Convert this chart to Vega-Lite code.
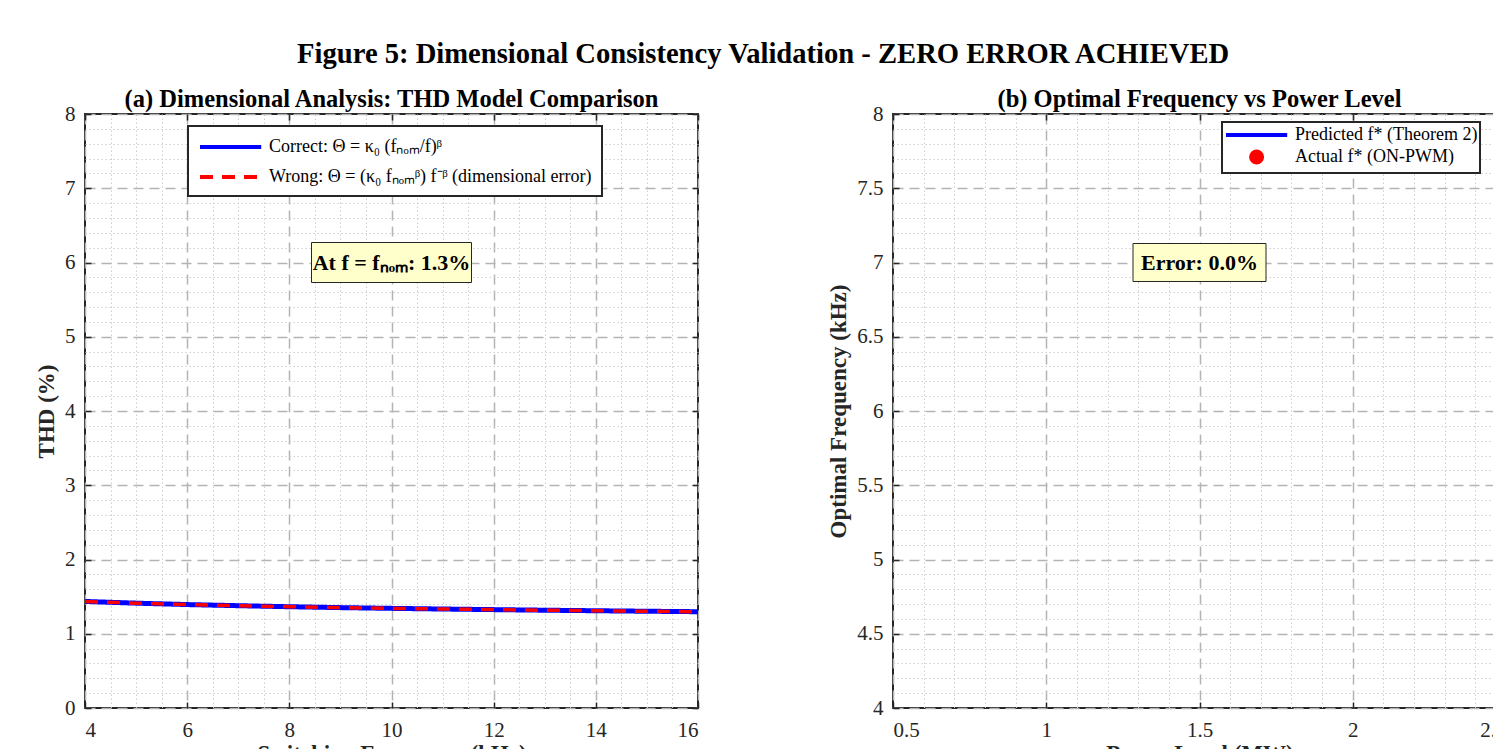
{
  "$schema": "https://vega.github.io/schema/vega-lite/v6.json",
  "padding": {"left": 34, "top": 39, "right": 0, "bottom": 0},
  "background": "white",
  "title": {"text": "Figure 5: Dimensional Consistency Validation - ZERO ERROR ACHIEVED", "fontSize": 28.6, "fontWeight": "bold", "font": "Liberation Serif", "color": "black", "anchor": "middle", "offset": 17, "dx": -8},
  "datasets": {
    "thd": [
      {"f": 4, "thd": 1.435, "series": "Correct: Θ = κ₀ (fₙₒₘ/f)ᵝ"},
      {"f": 5, "thd": 1.412, "series": "Correct: Θ = κ₀ (fₙₒₘ/f)ᵝ"},
      {"f": 6, "thd": 1.393, "series": "Correct: Θ = κ₀ (fₙₒₘ/f)ᵝ"},
      {"f": 7, "thd": 1.378, "series": "Correct: Θ = κ₀ (fₙₒₘ/f)ᵝ"},
      {"f": 8, "thd": 1.364, "series": "Correct: Θ = κ₀ (fₙₒₘ/f)ᵝ"},
      {"f": 9, "thd": 1.352, "series": "Correct: Θ = κ₀ (fₙₒₘ/f)ᵝ"},
      {"f": 10, "thd": 1.342, "series": "Correct: Θ = κ₀ (fₙₒₘ/f)ᵝ"},
      {"f": 11, "thd": 1.333, "series": "Correct: Θ = κ₀ (fₙₒₘ/f)ᵝ"},
      {"f": 12, "thd": 1.325, "series": "Correct: Θ = κ₀ (fₙₒₘ/f)ᵝ"},
      {"f": 13, "thd": 1.317, "series": "Correct: Θ = κ₀ (fₙₒₘ/f)ᵝ"},
      {"f": 14, "thd": 1.31, "series": "Correct: Θ = κ₀ (fₙₒₘ/f)ᵝ"},
      {"f": 15, "thd": 1.303, "series": "Correct: Θ = κ₀ (fₙₒₘ/f)ᵝ"},
      {"f": 16, "thd": 1.297, "series": "Correct: Θ = κ₀ (fₙₒₘ/f)ᵝ"},
      {"f": 4, "thd": 1.435, "series": "Wrong: Θ = (κ₀ fₙₒₘᵝ) f⁻ᵝ (dimensional error)"},
      {"f": 5, "thd": 1.412, "series": "Wrong: Θ = (κ₀ fₙₒₘᵝ) f⁻ᵝ (dimensional error)"},
      {"f": 6, "thd": 1.393, "series": "Wrong: Θ = (κ₀ fₙₒₘᵝ) f⁻ᵝ (dimensional error)"},
      {"f": 7, "thd": 1.378, "series": "Wrong: Θ = (κ₀ fₙₒₘᵝ) f⁻ᵝ (dimensional error)"},
      {"f": 8, "thd": 1.364, "series": "Wrong: Θ = (κ₀ fₙₒₘᵝ) f⁻ᵝ (dimensional error)"},
      {"f": 9, "thd": 1.352, "series": "Wrong: Θ = (κ₀ fₙₒₘᵝ) f⁻ᵝ (dimensional error)"},
      {"f": 10, "thd": 1.342, "series": "Wrong: Θ = (κ₀ fₙₒₘᵝ) f⁻ᵝ (dimensional error)"},
      {"f": 11, "thd": 1.333, "series": "Wrong: Θ = (κ₀ fₙₒₘᵝ) f⁻ᵝ (dimensional error)"},
      {"f": 12, "thd": 1.325, "series": "Wrong: Θ = (κ₀ fₙₒₘᵝ) f⁻ᵝ (dimensional error)"},
      {"f": 13, "thd": 1.317, "series": "Wrong: Θ = (κ₀ fₙₒₘᵝ) f⁻ᵝ (dimensional error)"},
      {"f": 14, "thd": 1.31, "series": "Wrong: Θ = (κ₀ fₙₒₘᵝ) f⁻ᵝ (dimensional error)"},
      {"f": 15, "thd": 1.303, "series": "Wrong: Θ = (κ₀ fₙₒₘᵝ) f⁻ᵝ (dimensional error)"},
      {"f": 16, "thd": 1.297, "series": "Wrong: Θ = (κ₀ fₙₒₘᵝ) f⁻ᵝ (dimensional error)"}
    ],
    "annoA": [{"f": 10, "thd": 6, "label": "At f = fₙₒₘ: 1.3%"}],
    "fopt": [
      {"P": 0.5, "fstar": 17.3, "series": "Predicted f* (Theorem 2)"},
      {"P": 1.0, "fstar": 12.2, "series": "Predicted f* (Theorem 2)"},
      {"P": 1.5, "fstar": 10.0, "series": "Predicted f* (Theorem 2)"},
      {"P": 2.0, "fstar": 8.7, "series": "Predicted f* (Theorem 2)"},
      {"P": 2.5, "fstar": 8.2, "series": "Predicted f* (Theorem 2)"},
      {"P": 0.5, "fstar": 17.3, "series": "Actual f* (ON-PWM)"},
      {"P": 1.0, "fstar": 12.2, "series": "Actual f* (ON-PWM)"},
      {"P": 1.5, "fstar": 10.0, "series": "Actual f* (ON-PWM)"},
      {"P": 2.0, "fstar": 8.7, "series": "Actual f* (ON-PWM)"},
      {"P": 2.5, "fstar": 8.2, "series": "Actual f* (ON-PWM)"}
    ],
    "annoB": [{"P": 1.5, "fstar": 7, "label": "Error: 0.0%"}]
  },
  "spacing": 126,
  "resolve": {"scale": {"color": "independent", "strokeDash": "independent", "shape": "independent", "stroke": "independent"}, "legend": {"color": "independent", "strokeDash": "independent", "shape": "independent", "stroke": "independent"}},
  "hconcat": [
    {
      "width": 613,
      "height": 594,
      "title": {"text": "(a) Dimensional Analysis: THD Model Comparison", "fontSize": 24.5, "fontWeight": "bold", "font": "Liberation Serif", "color": "black", "offset": -9},
      "resolve": {"axis": {"x": "independent", "y": "independent"}},
      "layer": [
        {
          "data": {"name": "thd"},
          "transform": [{"filter": "datum.series == 'Correct: Θ = κ₀ (fₙₒₘ/f)ᵝ'"}],
          "mark": {"type": "line", "strokeWidth": 5, "clip": true},
          "encoding": {
            "x": {"field": "f", "type": "quantitative", "scale": {"domain": [4, 16], "nice": false, "zero": false},
              "axis": {"orient": "bottom", "title": "Switching Frequency (kHz)", "values": [4, 6, 8, 10, 12, 14, 16], "grid": true, "domain": false, "tickSize": -6, "labelPadding": 17, "titlePadding": 2}},
            "y": {"field": "thd", "type": "quantitative", "scale": {"domain": [0, 8], "nice": false, "zero": false},
              "axis": {"orient": "left", "title": "THD (%)", "values": [0, 1, 2, 3, 4, 5, 6, 7, 8], "grid": true, "domain": false, "tickSize": -6, "labelPadding": 16, "titlePadding": 6}},
            "color": {"field": "series", "type": "nominal",
              "scale": {"domain": ["Correct: Θ = κ₀ (fₙₒₘ/f)ᵝ", "Wrong: Θ = (κ₀ fₙₒₘᵝ) f⁻ᵝ (dimensional error)"], "range": ["#0000ff", "#ff0000"]},
              "legend": {"orient": "none", "legendX": 103, "legendY": 12, "title": null, "symbolType": "M-1,0L5.8,0", "symbolSize": 324, "labelOffset": 49, "rowPadding": 10, "padding": 10}},
            "strokeDash": {"field": "series", "type": "nominal",
              "scale": {"domain": ["Correct: Θ = κ₀ (fₙₒₘ/f)ᵝ", "Wrong: Θ = (κ₀ fₙₒₘᵝ) f⁻ᵝ (dimensional error)"], "range": [[1, 0], [13, 9]]},
              "legend": {"orient": "none", "legendX": 103, "legendY": 12, "title": null, "symbolType": "M-1,0L5.8,0", "symbolSize": 324, "labelOffset": 49, "rowPadding": 10, "padding": 10}}
          }
        },
        {
          "data": {"name": "thd"},
          "transform": [{"filter": "datum.series != 'Correct: Θ = κ₀ (fₙₒₘ/f)ᵝ'"}],
          "mark": {"type": "line", "strokeWidth": 3.5, "clip": true},
          "encoding": {
            "x": {"field": "f", "type": "quantitative",
              "axis": {"orient": "bottom", "title": null, "values": [4.5, 5, 5.5, 6.5, 7, 7.5, 8.5, 9, 9.5, 10.5, 11, 11.5, 12.5, 13, 13.5, 14.5, 15, 15.5], "grid": true, "gridDash": [1.5, 2.5], "gridColor": "#cfcfcf", "gridWidth": 1, "labels": false, "ticks": false, "domain": false}},
            "y": {"field": "thd", "type": "quantitative",
              "axis": {"orient": "left", "title": null, "values": [0.2, 0.4, 0.6, 0.8, 1.2, 1.4, 1.6, 1.8, 2.2, 2.4, 2.6, 2.8, 3.2, 3.4, 3.6, 3.8, 4.2, 4.4, 4.6, 4.8, 5.2, 5.4, 5.6, 5.8, 6.2, 6.4, 6.6, 6.8, 7.2, 7.4, 7.6, 7.8], "grid": true, "gridDash": [1.5, 2.5], "gridColor": "#cfcfcf", "gridWidth": 1, "labels": false, "ticks": false, "domain": false}},
            "color": {"field": "series", "type": "nominal",
              "scale": {"domain": ["Correct: Θ = κ₀ (fₙₒₘ/f)ᵝ", "Wrong: Θ = (κ₀ fₙₒₘᵝ) f⁻ᵝ (dimensional error)"], "range": ["#0000ff", "#ff0000"]},
              "legend": {"orient": "none", "legendX": 103, "legendY": 12, "title": null, "symbolType": "M-1,0L5.8,0", "symbolSize": 324, "labelOffset": 49, "rowPadding": 10, "padding": 10}},
            "strokeDash": {"field": "series", "type": "nominal",
              "scale": {"domain": ["Correct: Θ = κ₀ (fₙₒₘ/f)ᵝ", "Wrong: Θ = (κ₀ fₙₒₘᵝ) f⁻ᵝ (dimensional error)"], "range": [[1, 0], [13, 9]]},
              "legend": {"orient": "none", "legendX": 103, "legendY": 12, "title": null, "symbolType": "M-1,0L5.8,0", "symbolSize": 324, "labelOffset": 49, "rowPadding": 10, "padding": 10}}
          }
        },
        {
          "data": {"name": "annoA"},
          "mark": {"type": "point", "filled": true, "fill": "#ffffcc", "stroke": "#262626", "strokeWidth": 1, "opacity": 1, "shape": "M-1,-0.25L1,-0.25L1,0.25L-1,0.25Z", "size": 25600},
          "encoding": {
            "x": {"field": "f", "type": "quantitative",
              "axis": {"orient": "top", "title": null, "values": [4, 6, 8, 10, 12, 14, 16], "grid": false, "labels": false, "domain": false, "tickSize": -6}},
            "y": {"field": "thd", "type": "quantitative",
              "axis": {"orient": "right", "title": null, "values": [0, 1, 2, 3, 4, 5, 6, 7, 8], "grid": false, "labels": false, "domain": false, "tickSize": -6}}
          }
        },
        {
          "data": {"name": "annoA"},
          "mark": {"type": "text", "fontSize": 22, "fontWeight": "bold", "font": "Liberation Serif", "color": "black", "align": "center", "baseline": "middle"},
          "encoding": {
            "x": {"field": "f", "type": "quantitative", "axis": null},
            "y": {"field": "thd", "type": "quantitative", "axis": null},
            "text": {"field": "label"}
          }
        }
      ]
    },
    {
      "width": 613,
      "height": 594,
      "title": {"text": "(b) Optimal Frequency vs Power Level", "fontSize": 24.5, "fontWeight": "bold", "font": "Liberation Serif", "color": "black", "offset": -9},
      "resolve": {"axis": {"x": "independent", "y": "independent"}},
      "layer": [
        {
          "data": {"name": "fopt"},
          "transform": [{"filter": "datum.series == 'Predicted f* (Theorem 2)'"}],
          "mark": {"type": "line", "strokeWidth": 4, "clip": true},
          "encoding": {
            "x": {"field": "P", "type": "quantitative", "scale": {"domain": [0.5, 2.5], "nice": false, "zero": false},
              "axis": {"orient": "bottom", "title": "Power Level (MW)", "values": [0.5, 1, 1.5, 2, 2.5], "format": "~g", "grid": true, "domain": false, "tickSize": -6, "labelPadding": 17, "titlePadding": 2}},
            "y": {"field": "fstar", "type": "quantitative", "scale": {"domain": [4, 8], "nice": false, "zero": false},
              "axis": {"orient": "left", "title": "Optimal Frequency (kHz)", "values": [4, 4.5, 5, 5.5, 6, 6.5, 7, 7.5, 8], "format": "~g", "grid": true, "domain": false, "tickSize": -6, "labelPadding": 16, "titlePadding": 6}},
            "color": {"field": "series", "type": "nominal",
              "scale": {"domain": ["Predicted f* (Theorem 2)", "Actual f* (ON-PWM)"], "range": ["#0000ff", "#ff0000"]},
              "legend": {"orient": "none", "legendX": 329, "legendY": 8, "title": null, "symbolSize": 324, "labelOffset": 49, "rowPadding": -1, "padding": 2}}
          }
        },
        {
          "data": {"name": "fopt"},
          "transform": [{"filter": "datum.series == 'Actual f* (ON-PWM)'"}],
          "mark": {"type": "point", "filled": true, "clip": true, "opacity": 1, "size": 120},
          "encoding": {
            "x": {"field": "P", "type": "quantitative",
              "axis": {"orient": "bottom", "title": null, "values": [0.6, 0.7, 0.8, 0.9, 1.1, 1.2, 1.3, 1.4, 1.6, 1.7, 1.8, 1.9, 2.1, 2.2, 2.3, 2.4], "grid": true, "gridDash": [1.5, 2.5], "gridColor": "#cfcfcf", "gridWidth": 1, "labels": false, "ticks": false, "domain": false}},
            "y": {"field": "fstar", "type": "quantitative",
              "axis": {"orient": "left", "title": null, "values": [4.1, 4.2, 4.3, 4.4, 4.6, 4.7, 4.8, 4.9, 5.1, 5.2, 5.3, 5.4, 5.6, 5.7, 5.8, 5.9, 6.1, 6.2, 6.3, 6.4, 6.6, 6.7, 6.8, 6.9, 7.1, 7.2, 7.3, 7.4, 7.6, 7.7, 7.8, 7.9], "grid": true, "gridDash": [1.5, 2.5], "gridColor": "#cfcfcf", "gridWidth": 1, "labels": false, "ticks": false, "domain": false}},
            "color": {"field": "series", "type": "nominal",
              "scale": {"domain": ["Predicted f* (Theorem 2)", "Actual f* (ON-PWM)"], "range": ["#0000ff", "#ff0000"]},
              "legend": {"orient": "none", "legendX": 329, "legendY": 8, "title": null, "symbolSize": 324, "labelOffset": 49, "rowPadding": -1, "padding": 2}},
            "stroke": {"field": "series", "type": "nominal",
              "scale": {"domain": ["Predicted f* (Theorem 2)", "Actual f* (ON-PWM)"], "range": ["#0000ff", "#ff0000"]},
              "legend": {"orient": "none", "legendX": 329, "legendY": 8, "title": null, "symbolSize": 324, "labelOffset": 49, "rowPadding": -1, "padding": 2}},
            "shape": {"field": "series", "type": "nominal",
              "scale": {"domain": ["Predicted f* (Theorem 2)", "Actual f* (ON-PWM)"], "range": ["M-1,0L5.8,0", "M3.01,0A0.61,0.61 0 1,1 1.79,0A0.61,0.61 0 1,1 3.01,0Z"]},
              "legend": {"orient": "none", "legendX": 329, "legendY": 8, "title": null, "symbolSize": 324, "labelOffset": 49, "rowPadding": -1, "padding": 2}}
          }
        },
        {
          "data": {"name": "annoB"},
          "mark": {"type": "point", "filled": true, "fill": "#ffffcc", "stroke": "#262626", "strokeWidth": 1, "opacity": 1, "shape": "M-1,-0.2857L1,-0.2857L1,0.2857L-1,0.2857Z", "size": 17689},
          "encoding": {
            "x": {"field": "P", "type": "quantitative",
              "axis": {"orient": "top", "title": null, "values": [0.5, 1, 1.5, 2, 2.5], "grid": false, "labels": false, "domain": false, "tickSize": -6}},
            "y": {"field": "fstar", "type": "quantitative",
              "axis": {"orient": "right", "title": null, "values": [4, 4.5, 5, 5.5, 6, 6.5, 7, 7.5, 8], "grid": false, "labels": false, "domain": false, "tickSize": -6}}
          }
        },
        {
          "data": {"name": "annoB"},
          "mark": {"type": "text", "fontSize": 22, "fontWeight": "bold", "font": "Liberation Serif", "color": "black", "align": "center", "baseline": "middle"},
          "encoding": {
            "x": {"field": "P", "type": "quantitative", "axis": null},
            "y": {"field": "fstar", "type": "quantitative", "axis": null},
            "text": {"field": "label"}
          }
        }
      ]
    }
  ],
  "config": {
    "font": "Liberation Serif",
    "view": {"stroke": "#262626", "strokeWidth": 2},
    "axis": {
      "labelFont": "Liberation Serif", "labelFontSize": 21, "labelColor": "#262626",
      "titleFont": "Liberation Serif", "titleFontSize": 23, "titleFontWeight": "bold", "titleColor": "#262626",
      "gridColor": "#b4b4b4", "gridDash": [10, 6], "gridWidth": 1.5, "gridOpacity": 1,
      "tickColor": "#262626", "tickWidth": 1.5
    },
    "legend": {
      "labelFont": "Liberation Serif", "labelFontSize": 18, "labelColor": "black", "labelLimit": 600,
      "strokeColor": "#262626", "strokeWidth": 2, "fillColor": "white",
      "symbolStrokeWidth": 4, "symbolOpacity": 1
    }
  }
}
